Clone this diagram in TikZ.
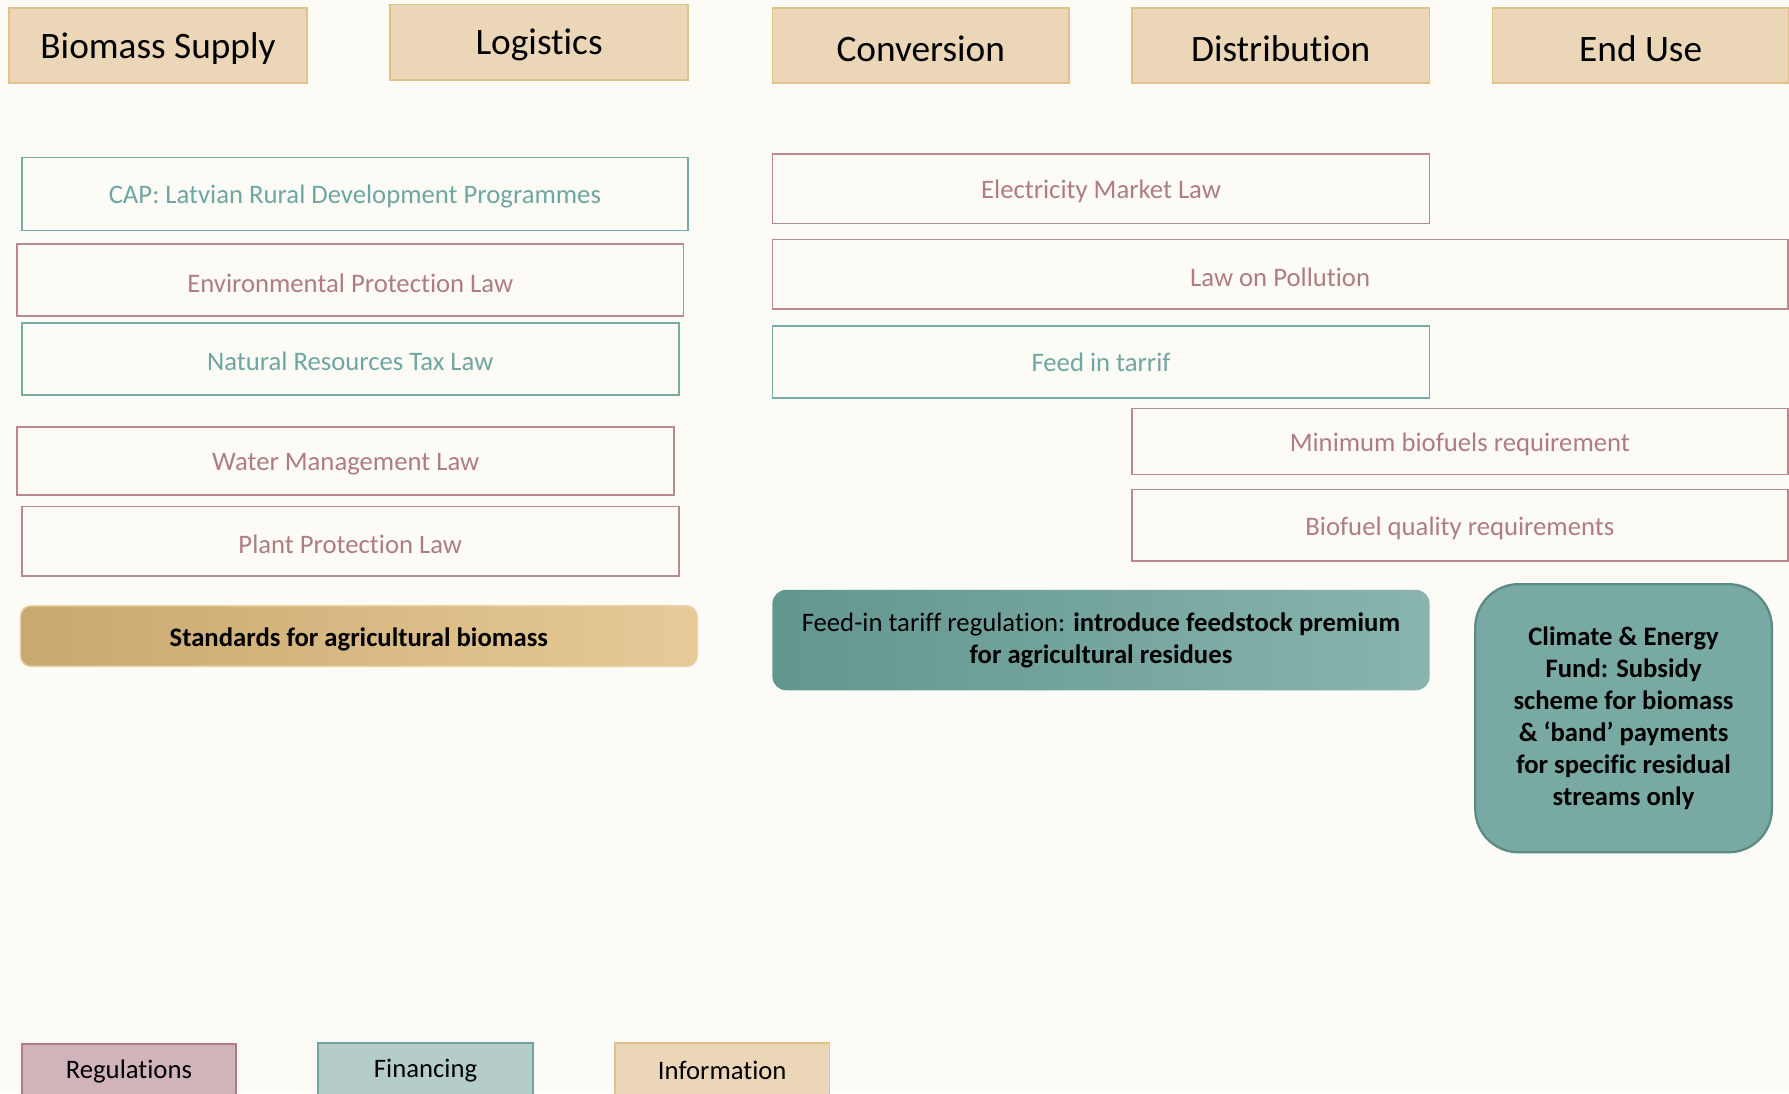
\documentclass[tikz,border=0pt]{standalone}
\usepackage{fontspec}
\setmainfont{Carlito}[Ligatures=NoCommon]
\definecolor{bg}{HTML}{FCFBF6}
\definecolor{hfill}{HTML}{EBD7B8}
\definecolor{hdraw}{HTML}{E2C28C}
\definecolor{teal}{HTML}{76AAA5}
\definecolor{tealtxt}{HTML}{6FA6A1}
\definecolor{mauve}{HTML}{B98990}
\definecolor{mauvetxt}{HTML}{B07C84}
\definecolor{climfill}{HTML}{79A9A3}
\definecolor{climdraw}{HTML}{5B8B85}
\definecolor{fl}{HTML}{62968F}
\definecolor{fr}{HTML}{89B4AF}
\definecolor{sl}{HTML}{C8A86E}
\definecolor{sr}{HTML}{E7CA98}
\definecolor{sdraw}{HTML}{E9D2A5}
\definecolor{regfill}{HTML}{D0B4B9}
\definecolor{regdraw}{HTML}{B27C84}
\definecolor{finfill}{HTML}{B4CDC9}
\definecolor{findraw}{HTML}{72A49F}
\tikzset{
  hdr/.style={draw=hdraw, fill=hfill, line width=1.5pt, inner sep=0pt, font=\fontsize{32.7}{38}\selectfont},
  tealbox/.style={draw=teal, fill=bg, line width=1.5pt, inner sep=0pt, text=tealtxt, font=\fontsize{23.4}{28}\selectfont},
  mauvebox/.style={draw=mauve, fill=bg, line width=1.5pt, inner sep=0pt, text=mauvetxt, font=\fontsize{23.4}{28}\selectfont},
  legbox/.style={line width=1.5pt, inner sep=0pt, font=\fontsize{23.4}{28}\selectfont},
}
\newcommand{\dn}[1]{\raisebox{0pt}[\dimexpr\height+5pt\relax][\depth]{#1}}
\begin{document}
\begin{tikzpicture}[x=1pt,y=-1pt]
\useasboundingbox (0,0) rectangle (1568,958);
\clip (0,0) rectangle (1568,958);
\fill[bg] (0,0) rectangle (1568,958);
% headers
\node[hdr, minimum width=261pt, minimum height=66pt] (h1) at (138.5,40) {\dn{Biomass Supply}};
\node[hdr, minimum width=261pt, minimum height=66pt] (h2) at (472.5,37) {\dn{Logistics}};
\node[hdr, minimum width=260pt, minimum height=66pt] (h3) at (807,40) {\dn{Conversion}};
\node[hdr, minimum width=261pt, minimum height=66pt] (h4) at (1122.5,40) {\dn{Distribution}};
\node[hdr, minimum width=260pt, minimum height=66pt] (h5) at (1438,40) {\dn{End Use}};
% left column
\node[tealbox, minimum width=584pt, minimum height=64pt] (cap) at (311,170) {\dn{CAP: Latvian Rural Development Programmes}};
\node[mauvebox, minimum width=584pt, minimum height=63pt] (env) at (307,245.5) {\dn{Environmental Protection Law}};
\node[tealbox, minimum width=576pt, minimum height=63pt] (nrt) at (307,314.5) {\dn{Natural Resources Tax Law}};
\node[mauvebox, minimum width=576pt, minimum height=60pt] (wml) at (303,404) {\dn{Water Management Law}};
\node[mauvebox, minimum width=576pt, minimum height=61pt] (ppl) at (307,474.5) {\dn{Plant Protection Law}};
\node[draw=sdraw, line width=1.2pt, rounded corners=9pt, left color=sl, right color=sr, inner sep=0pt,
      minimum width=593pt, minimum height=53pt, font=\fontsize{23.4}{28}\selectfont\bfseries] (std) at (314.5,557.5) {\dn{Standards for agricultural biomass}};
% right side
\node[mauvebox, minimum width=576pt, minimum height=61pt] (eml) at (965,165.5) {\dn{Electricity Market Law}};
\node[mauvebox, minimum width=890pt, minimum height=61pt] (pol) at (1122,240.5) {\dn{Law on Pollution}};
\node[tealbox, minimum width=576pt, minimum height=63pt] (fit) at (965,317.5) {Feed in tarrif};
\node[mauvebox, minimum width=575pt, minimum height=58pt] (mbr) at (1279.5,387) {\dn{Minimum biofuels requirement}};
\node[mauvebox, minimum width=575pt, minimum height=63pt] (bqr) at (1279.5,460.5) {\dn{Biofuel quality requirements}};
\node[rounded corners=12pt, left color=fl, right color=fr, inner sep=0pt, align=center,
      minimum width=576pt, minimum height=88pt, font=\fontsize{23.4}{28}\selectfont] (fitr) at (965,561)
      {Feed-in tariff regulation: \textbf{introduce feedstock premium}\\\textbf{for agricultural residues}};
\node[draw=climdraw, fill=climfill, line width=2pt, rounded corners=38pt, inner sep=0pt, align=center,
      minimum width=260pt, minimum height=235pt, font=\fontsize{23.4}{28}\selectfont\bfseries] (cef) at (1423,629.5)
      {Climate \& Energy\\Fund: Subsidy\\scheme for biomass\\\& ‘band’ payments\\for specific residual\\streams only};
% legend
\node[legbox, draw=regdraw, fill=regfill, minimum width=188pt, minimum height=48pt] (lreg) at (113,939) {Regulations};
\node[legbox, draw=findraw, fill=finfill, minimum width=188pt, minimum height=48pt] (lfin) at (373,938) {Financing};
\node[legbox, draw=hdraw, fill=hfill, minimum width=188pt, minimum height=48pt] (linf) at (633,938) {Information};
\end{tikzpicture}
\end{document}
